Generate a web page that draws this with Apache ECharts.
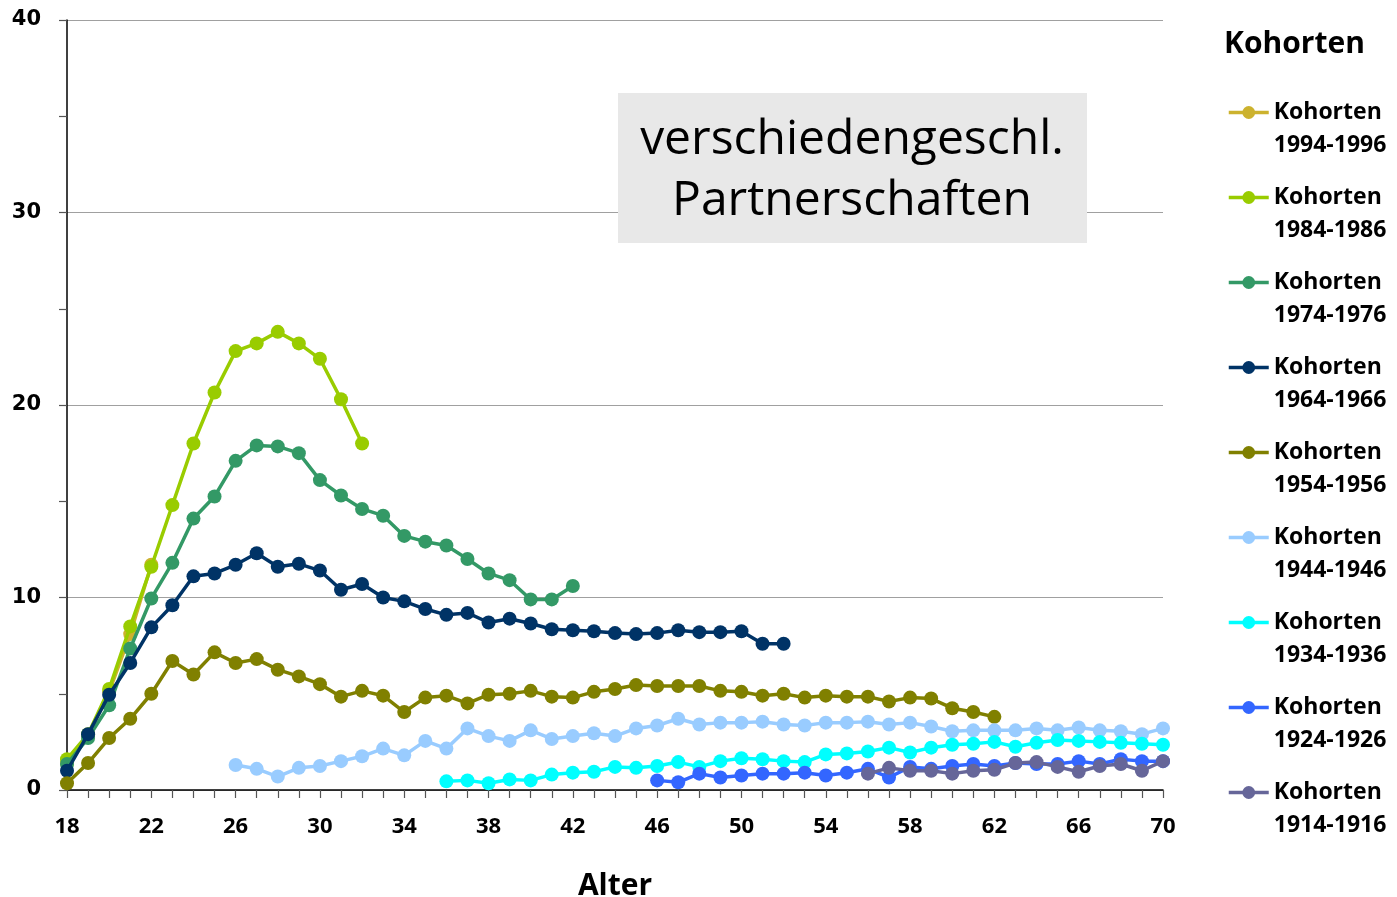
<!DOCTYPE html>
<html>
<head>
<meta charset="utf-8">
<script src="https://cdn.jsdelivr.net/npm/echarts@6/dist/echarts.min.js"></script>
<style>
html,body{margin:0;padding:0;background:#fff;}
#chart{width:1397px;height:897px;}
</style>
</head>
<body>
<div id="chart"></div>
<script>
// ---- data ----
const xTickLabels = [18, 22, 26, 30, 34, 38, 42, 46, 50, 54, 58, 62, 66, 70];
const yTickLabels = [0, 10, 20, 30, 40];

const cohortNames = ['1994-1996','1984-1986','1974-1976','1964-1966','1954-1956','1944-1946','1934-1936','1924-1926','1914-1916'];
const cohortColors = ['#CCB22E','#99CC00','#339966','#003366','#808000','#99CCFF','#00FFFF','#3366FF','#666699'];
const startAges = [18, 18, 18, 18, 18, 26, 36, 46, 56];

const v1994 = [1.4, 2.8, 5.1, 8.1, 11.7];
const v1984 = [1.6, 2.9, 5.25, 8.5, 11.6, 14.8, 18.0, 20.65, 22.8, 23.2, 23.8, 23.2, 22.4, 20.3, 18.0];
const v1974 = [1.35, 2.7, 4.4, 7.35, 9.95, 11.8, 14.1, 15.25, 17.1, 17.9, 17.85, 17.5, 16.1, 15.3, 14.6, 14.25,
               13.2, 12.9, 12.7, 12.0, 11.25, 10.9, 9.9, 9.9, 10.6];
const v1964 = [1.0, 2.9, 4.95, 6.6, 8.45, 9.6, 11.1, 11.25, 11.7, 12.3, 11.6, 11.75, 11.4, 10.4, 10.7, 10.0,
               9.8, 9.4, 9.1, 9.2, 8.7, 8.9, 8.65, 8.35, 8.3, 8.25, 8.15, 8.1, 8.15, 8.3, 8.2, 8.2, 8.25, 7.6, 7.6];
const v1954 = [0.35, 1.4, 2.7, 3.7, 5.0, 6.7, 6.0, 7.15, 6.6, 6.8, 6.25, 5.9, 5.5, 4.85, 5.15, 4.9,
               4.05, 4.8, 4.9, 4.5, 4.95, 5.0, 5.15, 4.85, 4.8, 5.1, 5.25, 5.45, 5.4, 5.4, 5.4, 5.15, 5.1,
               4.9, 5.0, 4.8, 4.9, 4.85, 4.85, 4.6, 4.8, 4.75, 4.25, 4.05, 3.8];
const v1944 = [1.3, 1.1, 0.7, 1.15, 1.25, 1.5, 1.75, 2.15, 1.8, 2.55, 2.15, 3.2, 2.8, 2.55, 3.1, 2.65, 2.8,
               2.95, 2.8, 3.2, 3.35, 3.7, 3.4, 3.5, 3.5, 3.55, 3.4, 3.35, 3.5, 3.5, 3.55, 3.4, 3.5, 3.3,
               3.05, 3.1, 3.1, 3.1, 3.2, 3.1, 3.25, 3.1, 3.05, 2.9, 3.2];
const v1934 = [0.45, 0.5, 0.35, 0.55, 0.5, 0.8, 0.9, 0.95, 1.2, 1.15, 1.25, 1.45, 1.2, 1.5, 1.65, 1.6, 1.5,
               1.45, 1.85, 1.9, 2.0, 2.2, 1.95, 2.2, 2.35, 2.4, 2.5, 2.25, 2.45, 2.6, 2.55, 2.5, 2.45, 2.4, 2.35];
const v1924 = [0.5, 0.4, 0.85, 0.65, 0.75, 0.85, 0.85, 0.9, 0.75, 0.9, 1.1, 0.65, 1.2, 1.1, 1.25, 1.35, 1.25,
               1.4, 1.35, 1.35, 1.5, 1.35, 1.6, 1.5, 1.5];
const v1914 = [0.85, 1.15, 1.0, 1.0, 0.85, 1.0, 1.05, 1.4, 1.45, 1.2, 0.95, 1.25, 1.35, 1.0, 1.5];

const seriesValues = [v1994, v1984, v1974, v1964, v1954, v1944, v1934, v1924, v1914];

// ---- chart ----
const chart = echarts.init(document.getElementById('chart'), null, {renderer: 'canvas'});

const series = seriesValues.map((vals, i) => ({
  name: 'Kohorten ' + cohortNames[i],
  type: 'line',
  data: vals.map((v, k) => [startAges[i] + k, v]),
  symbol: 'circle',
  symbolSize: 14,
  showAllSymbol: true,
  color: cohortColors[i],
  lineStyle: {width: 3.5, color: cohortColors[i]},
  itemStyle: {color: cohortColors[i]},
  emphasis: {disabled: true},
  z: 2 + i,
  animation: false
}));

const option = {
  animation: false,
  backgroundColor: '#ffffff',
  grid: {left: 67, right: 234, top: 20, bottom: 107, containLabel: false, outerBoundsMode: 'none'},
  xAxis: {
    type: 'value',
    min: 18, max: 70, interval: 1,
    name: 'Alter',
    nameLocation: 'middle',
    nameGap: 81,
    nameTextStyle: {fontFamily: 'Open Sans', fontWeight: 'bold', fontSize: 30, color: '#000'},
    axisLine: {show: true, onZero: false, lineStyle: {color: '#000', width: 1.5}},
    axisTick: {show: true, length: 8, lineStyle: {color: '#555', width: 1.2}},
    axisLabel: {
      margin: 26,
      fontFamily: 'Open Sans', fontWeight: 'bold', fontSize: 22, color: '#000',
      formatter: v => xTickLabels.indexOf(v) >= 0 ? String(v) : ''
    },
    splitLine: {show: false}
  },
  yAxis: {
    type: 'value',
    min: 0, max: 40, interval: 10,
    axisLine: {show: true, lineStyle: {color: '#000', width: 1.5}},
    axisTick: {show: true, length: 8, lineStyle: {color: '#555', width: 1.2}},
    minorTick: {show: true, splitNumber: 2, length: 8, lineStyle: {color: '#555', width: 1.2}},
    axisLabel: {
      margin: 26,
      fontFamily: 'DejaVu Sans', fontWeight: 'bold', fontSize: 21, color: '#000',
      formatter: v => yTickLabels.indexOf(v) >= 0 ? String(v) : ''
    },
    splitLine: {show: true, lineStyle: {color: '#A0A0A0', width: 1.2}}
  },
  legend: {
    orient: 'vertical',
    left: 1227,
    top: 63,
    padding: 0,
    itemWidth: 40,
    itemHeight: 16,
    itemGap: -14,
    data: series.map(s => s.name),
    formatter: name => ' \n' + name.replace(' ', '\n'),
    lineStyle: {width: 3.5},
    textStyle: {
      fontFamily: 'Open Sans', fontWeight: 'bold', fontSize: 23, lineHeight: 33,
      color: '#000'
    },
    selectedMode: false
  },
  graphic: [
    {
      type: 'text', left: 1224, top: 29,
      style: {text: 'Kohorten', fontFamily: 'Open Sans', fontWeight: 'bold', fontSize: 30, fill: '#000'}
    },
    {
      type: 'rect', shape: {x: 618, y: 93, width: 469, height: 150},
      style: {fill: '#E8E8E8'}, z: 100
    },
    {
      type: 'text', x: 852, y: 140, z: 101,
      style: {text: 'verschiedengeschl.', fontFamily: 'Open Sans', fontSize: 48, fill: '#000', align: 'center', verticalAlign: 'middle'}
    },
    {
      type: 'text', x: 852, y: 201, z: 101,
      style: {text: 'Partnerschaften', fontFamily: 'Open Sans', fontSize: 48, fill: '#000', align: 'center', verticalAlign: 'middle'}
    }
  ],
  series: series
};
chart.setOption(option);
</script>
</body>
</html>
